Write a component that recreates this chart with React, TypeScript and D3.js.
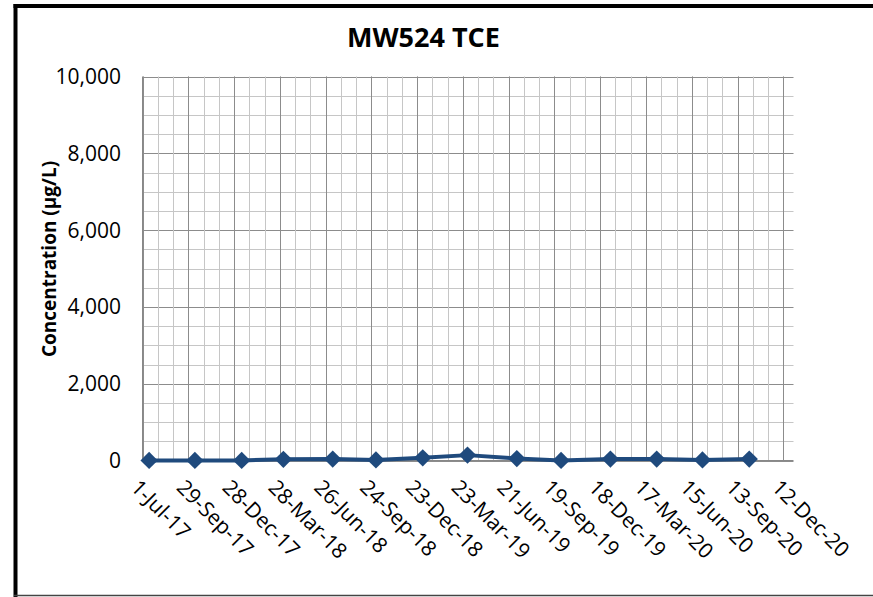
import React, { useEffect, useRef } from 'react';
import * as d3 from 'd3';

const sampleDates = [
  '2017-07-14', '2017-10-12', '2018-01-12', '2018-04-04', '2018-07-10',
  '2018-10-03', '2019-01-03', '2019-04-01', '2019-07-07', '2019-10-02',
  '2020-01-07', '2020-04-07', '2020-07-06', '2020-10-06',
];
const tceValues = [3, 3, 3, 30, 38, 15, 70, 140, 50, 3, 38, 38, 15, 38];
const yTicks = [0, 2000, 4000, 6000, 8000, 10000];
const axisStart = '2017-07-01';
const axisEnd = '2021-01-01';

const FONT = '"Open Sans", "DejaVu Sans", sans-serif';
const LINE = '#1f4a7d';

const App: React.FC = () => {
  const svgRef = useRef<SVGSVGElement>(null);

  useEffect(() => {
    if (!svgRef.current) return;
    const svg = d3.select(svgRef.current);
    svg.selectAll('*').remove();

    const width = 873;
    const height = 597;
    const plot = { left: 142.5, right: 793.5, top: 76.5, bottom: 460.5 };

    const parse = d3.utcParse('%Y-%m-%d');
    const x0 = parse(axisStart)!;
    const x1 = parse(axisEnd)!;
    const x = d3.scaleUtc().domain([x0, x1]).range([plot.left, plot.right]);
    const y = d3.scaleLinear().domain([0, 10000]).range([plot.bottom, plot.top]);

    svg.append('rect').attr('width', width).attr('height', height).attr('fill', '#fff');

    // chart frame
    svg.append('line').attr('x1', 15.5).attr('x2', 15.5).attr('y1', 4).attr('y2', 597)
      .attr('stroke', '#000').attr('stroke-width', 4);
    svg.append('line').attr('x1', 13.5).attr('x2', width).attr('y1', 6).attr('y2', 6)
      .attr('stroke', '#000').attr('stroke-width', 4);
    svg.append('line').attr('x1', 14).attr('x2', width).attr('y1', 595.5).attr('y2', 595.5)
      .attr('stroke', '#444').attr('stroke-width', 1.5);

    // gridlines
    const days = d3.utcDay.count(x0, x1);
    const minorX = d3.range(0, days + 1, 30).map((d) => d3.utcDay.offset(x0, d));
    const majorX = d3.range(0, days + 1, 90).map((d) => d3.utcDay.offset(x0, d));
    const minorY = d3.range(0, 10001, 500);

    const grid = svg.append('g');
    grid.selectAll('.hmin').data(minorY).join('line')
      .attr('x1', plot.left).attr('x2', plot.right)
      .attr('y1', (d) => Math.round(y(d)) + 0.5).attr('y2', (d) => Math.round(y(d)) + 0.5)
      .attr('stroke', (d) => (d % 2000 === 0 ? '#8c8c8c' : '#c6c6c6'));
    grid.selectAll('.vmin').data(minorX).join('line')
      .attr('x1', (d) => Math.round(x(d)) + 0.5).attr('x2', (d) => Math.round(x(d)) + 0.5)
      .attr('y1', plot.top).attr('y2', plot.bottom)
      .attr('stroke', '#c6c6c6');
    grid.selectAll('.vmaj').data(majorX).join('line')
      .attr('x1', (d) => Math.round(x(d)) + 0.5).attr('x2', (d) => Math.round(x(d)) + 0.5)
      .attr('y1', plot.top).attr('y2', plot.bottom)
      .attr('stroke', '#8c8c8c');

    // axes lines
    svg.append('line').attr('x1', plot.left).attr('x2', plot.left)
      .attr('y1', plot.top).attr('y2', plot.bottom).attr('stroke', '#888');
    svg.append('line').attr('x1', plot.left).attr('x2', plot.right)
      .attr('y1', plot.bottom).attr('y2', plot.bottom).attr('stroke', '#888');

    // y tick labels
    svg.append('g').selectAll('text').data(yTicks).join('text')
      .attr('x', 121).attr('y', (d) => y(d)).attr('dy', '0.36em')
      .attr('text-anchor', 'end')
      .style('font-family', FONT).style('font-size', '21px').style('fill', '#000')
      .text((d) => d3.format(',')(d));

    // x tick labels
    const fmt = d3.utcFormat('%-d-%b-%y');
    svg.append('g').selectAll('text').data(majorX).join('text')
      .attr('transform', (d) => `translate(${x(d) - 2},${478}) rotate(45)`)
      .attr('dy', '0.72em')
      .attr('text-anchor', 'start')
      .style('font-family', FONT).style('font-size', '21px').style('fill', '#000')
      .text((d) => fmt(d));

    // series
    const pts = sampleDates.map((d, i) => ({ date: parse(d)!, value: tceValues[i] }));
    const line = d3.line<{ date: Date; value: number }>()
      .x((d) => x(d.date)).y((d) => y(d.value));
    svg.append('path').datum(pts).attr('d', line)
      .attr('fill', 'none').attr('stroke', LINE).attr('stroke-width', 4)
      .attr('stroke-linejoin', 'round');
    svg.append('g').selectAll('path').data(pts).join('path')
      .attr('d', d3.symbol(d3.symbolSquare, 150))
      .attr('transform', (d) => `translate(${x(d.date)},${y(d.value)}) rotate(45)`)
      .attr('fill', LINE);

    // title
    svg.append('text')
      .attr('x', 423.5).attr('y', 46.5).attr('text-anchor', 'middle')
      .style('font-family', FONT).style('font-size', '27px').style('font-weight', 'bold')
      .style('fill', '#000')
      .text('MW524 TCE');

    // y axis title
    svg.append('text')
      .attr('transform', 'translate(56,259) rotate(-90)')
      .attr('text-anchor', 'middle')
      .style('font-family', FONT).style('font-size', '19px').style('font-weight', 'bold')
      .style('fill', '#000')
      .text('Concentration (μg/L)');
  }, []);

  return (
    <svg
      ref={svgRef}
      width={873}
      height={597}
      style={{ position: 'absolute', left: 0, top: 0, display: 'block' }}
    />
  );
};

export default App;
